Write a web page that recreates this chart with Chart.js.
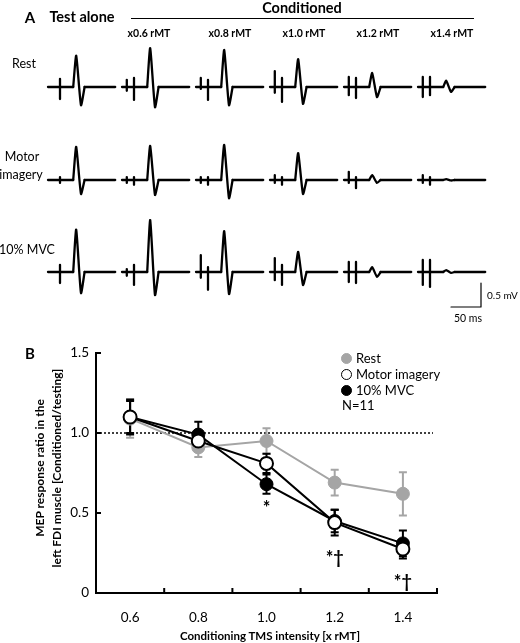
<!DOCTYPE html>
<html>
<head>
<meta charset="utf-8">
<script src="https://cdn.jsdelivr.net/npm/chart.js@4.4.1/dist/chart.umd.min.js"></script>
<style>
  body { margin: 0; background: #fff; }
  #wrap { position: relative; width: 520px; height: 643px; font-family: Lato, "Open Sans", sans-serif; color: #000; }
  #wrap canvas { position: absolute; left: 0; }
  .t { position: absolute; white-space: nowrap; transform: translate(-50%, -50%); line-height: 1; }
  .l { transform: translate(0, -50%); }
  .b { font-weight: bold; }
</style>
</head>
<body>
<div id="wrap">
  <canvas id="traces" width="520" height="330" style="top:0"></canvas>
  <canvas id="chart" width="520" height="313" style="top:330px"></canvas>
</div>
<script>
// ---- panel A: MEP amplitudes (mV) ----
const conditions = ["Rest", "Motor imagery", "10% MVC"];
const columns = ["Test alone", "x0.6 rMT", "x0.8 rMT", "x1.0 rMT", "x1.2 rMT", "x1.4 rMT"];

const restPeak = [0.65, 0.81, 0.77, 0.58, 0.29, 0.13];
const restTrough = [0.38, 0.42, 0.38, 0.35, 0.21, 0.10];
const imageryPeak = [0.69, 0.71, 0.73, 0.56, 0.10, 0.02];
const imageryTrough = [0.29, 0.31, 0.38, 0.29, 0.06, 0.01];
const mvcPeak = [0.88, 1.08, 0.85, 0.42, 0.10, 0.04];
const mvcTrough = [0.44, 0.48, 0.46, 0.27, 0.10, 0.02];

// stimulus artefacts [up, down] in mV: conditioning pulse and test pulse
const restCondArt = [null, [0.15, 0.08], [0.19, 0.04], [0.33, 0.12], [0.21, 0.17], [0.21, 0.21]];
const restTestArt = [[0.17, 0.25], [0.19, 0.27], [0.15, 0.27], [0.19, 0.31], [0.19, 0.23], [0.21, 0.17]];
const imageryCondArt = [null, [0.06, 0.06], [0.06, 0.06], [0.10, 0.06], [0.17, 0.06], [0.10, 0.06]];
const imageryTestArt = [[0.06, 0.06], [0.06, 0.10], [0.06, 0.10], [0.06, 0.10], [0.06, 0.17], [0.06, 0.10]];
const mvcCondArt = [null, [0.06, 0.08], [0.35, 0.12], [0.29, 0.17], [0.21, 0.21], [0.25, 0.27]];
const mvcTestArt = [[0.15, 0.23], [0.15, 0.27], [0.10, 0.37], [0.15, 0.27], [0.21, 0.23], [0.25, 0.31]];

// timing of the sweep (ms from sweep start)
const sweepMs = 112;
const condPulseMs = 8;
const testPulseMs = 20;
const mepOnsetMs = 42;
const mepPeakMs = 47;
const mepTroughMs = 55;
const mepEndMs = 61;

const scaleBarMs = 50;
const scaleBarMv = 0.5;

// ---- panel B: MEP ratio ----
const intensities = ["0.6", "0.8", "1.0", "1.2", "1.4"];
const restRatio = [1.09, 0.91, 0.95, 0.69, 0.62];
const restSem = [0.12, 0.06, 0.08, 0.08, 0.135];
const imageryRatio = [1.10, 0.95, 0.81, 0.44, 0.275];
const imagerySem = [0.10, 0.06, 0.06, 0.08, 0.06];
const mvcRatio = [1.10, 0.99, 0.68, 0.45, 0.31];
const mvcSem = [0.11, 0.08, 0.06, 0.07, 0.08];
const marks = ["", "", "*", "*\u2020", "*\u2020"];
const markY = [null, null, 0.53, 0.215, 0.065];

const GREY = "#a5a5a5";

// ---------- text ----------
const wrap = document.getElementById("wrap");
function txt(s, x, y, size, cls, extra) {
  const d = document.createElement("div");
  d.className = "t " + (cls || "");
  d.textContent = s;
  d.style.left = x + "px";
  d.style.top = y + "px";
  d.style.fontSize = size + "px";
  if (extra) Object.assign(d.style, extra);
  wrap.appendChild(d);
  return d;
}

txt("A", 30, 17, 15, "b");
txt("Test alone", 82, 17, 14.5, "b");
txt("Conditioned", 302, 8, 14.5, "b");
const rule = document.createElement("div");
Object.assign(rule.style, { position: "absolute", left: "131px", top: "18px", width: "343px", height: "1px", background: "#000" });
wrap.appendChild(rule);
const colCentres = [149, 230, 304, 378, 452];
columns.slice(1).forEach((c, i) => txt(c, colCentres[i], 33, 10.5, "b"));
txt("Rest", 24, 64, 12.5);
txt("Motor", 22, 157, 12.5);
txt("imagery", 21, 175, 12.5);
txt("10% MVC", 27, 250, 12.5);
txt("0.5 mV", 487, 295, 10, "l");
txt("50 ms", 468, 318, 10.5);

txt("B", 30, 353, 15, "b");
txt("MEP response ratio in the", 40, 468, 12, "b", { transform: "translate(-50%,-50%) rotate(-90deg)" });
txt("left FDI muscle [Conditioned/testing]", 57, 468, 12, "b", { transform: "translate(-50%,-50%) rotate(-90deg)" });
txt("Conditioning TMS intensity [x rMT]", 270, 636, 11.5, "b");

// legend
const legend = [
  { label: "Rest", fill: GREY, stroke: GREY, y: 358 },
  { label: "Motor imagery", fill: "#fff", stroke: "#000", y: 374 },
  { label: "10% MVC", fill: "#000", stroke: "#000", y: 390 }
];
legend.forEach(l => {
  const dot = document.createElement("div");
  Object.assign(dot.style, {
    position: "absolute", left: "341px", top: (l.y - 5.5) + "px", width: "9px", height: "9px",
    borderRadius: "50%", background: l.fill, border: "1.5px solid " + l.stroke
  });
  wrap.appendChild(dot);
  txt(l.label, 356, l.y, 13, "l");
});
txt("N=11", 342, 405, 13, "l");

// ---------- panel A traces ----------
const pxPerMs = 0.6, pxPerMv = 48;
const traceCanvasH = 330;
const colStartPx = [48, 122, 196, 270, 344, 418];
const rowBasePx = [87, 180, 272];

const rows = [
  { peak: restPeak, trough: restTrough, cond: restCondArt, test: restTestArt },
  { peak: imageryPeak, trough: imageryTrough, cond: imageryCondArt, test: imageryTestArt },
  { peak: mvcPeak, trough: mvcTrough, cond: mvcCondArt, test: mvcTestArt }
];

const traceSets = [];
rows.forEach((row, r) => {
  const yb = (traceCanvasH - rowBasePx[r]) / pxPerMv;
  colStartPx.forEach((cx, c) => {
    const x0 = cx / pxPerMs;
    const pts = [{ x: x0, y: yb }];
    const spike = (t, a) => {
      pts.push({ x: x0 + t, y: yb }, { x: x0 + t, y: yb + a[0] }, { x: x0 + t, y: yb - a[1] }, { x: x0 + t, y: yb });
    };
    if (row.cond[c]) spike(condPulseMs, row.cond[c]);
    spike(testPulseMs, row.test[c]);
    pts.push({ x: x0 + mepOnsetMs, y: yb });
    traceSets.push({ data: pts, tension: 0 });
    traceSets.push({
      data: [
        { x: x0 + mepOnsetMs, y: yb },
        { x: x0 + mepPeakMs, y: yb + row.peak[c] },
        { x: x0 + mepTroughMs, y: yb - row.trough[c] },
        { x: x0 + mepEndMs, y: yb }
      ],
      tension: 0.18
    });
    traceSets.push({ data: [{ x: x0 + mepEndMs, y: yb }, { x: x0 + sweepMs, y: yb }], tension: 0 });
  });
});
// calibration bar
const barX = 481 / pxPerMs, barY = (traceCanvasH - 307) / pxPerMv;
traceSets.push({
  data: [{ x: barX - scaleBarMs, y: barY }, { x: barX, y: barY }, { x: barX, y: barY + scaleBarMv }],
  tension: 0, borderWidth: 1.2
});

new Chart(document.getElementById("traces"), {
  type: "scatter",
  data: {
    datasets: traceSets.map(s => Object.assign({
      showLine: true, borderColor: "#000", borderWidth: 2.3, pointRadius: 0, borderJoinStyle: "round", borderCapStyle: "round"
    }, s))
  },
  options: {
    responsive: false, animation: false, events: [],
    layout: { padding: 0 },
    plugins: { legend: { display: false }, tooltip: { enabled: false } },
    scales: {
      x: { type: "linear", display: false, min: 0, max: 520 / pxPerMs },
      y: { type: "linear", display: false, min: 0, max: traceCanvasH / pxPerMv }
    }
  }
});

// ---------- panel B ----------
const sems = [imagerySem, mvcSem, restSem];
const errColours = ["#000", "#000", GREY];

const extras = {
  id: "extras",
  beforeDatasetsDraw(chart) {
    const { ctx, scales: { x, y } } = chart;
    ctx.save();
    // dotted reference line
    ctx.strokeStyle = "#000";
    ctx.lineWidth = 1.5;
    ctx.setLineDash([2, 2]);
    ctx.beginPath();
    ctx.moveTo(x.left, y.getPixelForValue(1));
    ctx.lineTo(x.right - 4, y.getPixelForValue(1));
    ctx.stroke();
    ctx.setLineDash([]);
    // error bars (drawn bottom dataset first)
    for (let d = chart.data.datasets.length - 1; d >= 0; d--) {
      const ds = chart.data.datasets[d];
      ctx.strokeStyle = errColours[d];
      ctx.lineWidth = 2;
      ds.data.forEach((v, i) => {
        const px = x.getPixelForValue(i);
        const top = y.getPixelForValue(v + sems[d][i]);
        const bot = y.getPixelForValue(v - sems[d][i]);
        ctx.beginPath();
        ctx.moveTo(px, top); ctx.lineTo(px, bot);
        ctx.moveTo(px - 4, top); ctx.lineTo(px + 4, top);
        ctx.moveTo(px - 4, bot); ctx.lineTo(px + 4, bot);
        ctx.stroke();
      });
    }
    ctx.restore();
  },
  afterDraw(chart) {
    const { ctx, scales: { x, y } } = chart;
    ctx.save();
    ctx.strokeStyle = "#000";
    ctx.lineWidth = 2;
    ctx.beginPath();
    [0.5, 1.5, 2.5, 3.5, 4.5].forEach(v => {
      const px = x.getPixelForValue(v);
      ctx.moveTo(px, y.bottom); ctx.lineTo(px, y.bottom - 5);
    });
    [0.5, 1, 1.5].forEach(v => {
      const py = y.getPixelForValue(v);
      ctx.moveTo(x.left, py); ctx.lineTo(x.left + 5, py);
    });
    ctx.stroke();
    ctx.fillStyle = "#000";
    ctx.font = "bold 18px Lato";
    ctx.textAlign = "center";
    ctx.textBaseline = "middle";
    marks.forEach((m, i) => {
      if (m) ctx.fillText(m, x.getPixelForValue(i), y.getPixelForValue(markY[i]));
    });
    ctx.restore();
  }
};

new Chart(document.getElementById("chart"), {
  type: "line",
  data: {
    labels: intensities,
    datasets: [
      { label: "Motor imagery", data: imageryRatio, borderColor: "#000", backgroundColor: "#fff",
        pointBackgroundColor: "#fff", pointBorderColor: "#000", pointBorderWidth: 2, pointRadius: 6.5 },
      { label: "10% MVC", data: mvcRatio, borderColor: "#000", backgroundColor: "#000",
        pointBackgroundColor: "#000", pointBorderColor: "#000", pointBorderWidth: 1, pointRadius: 6.5 },
      { label: "Rest", data: restRatio, borderColor: GREY, backgroundColor: GREY,
        pointBackgroundColor: GREY, pointBorderColor: GREY, pointBorderWidth: 1, pointRadius: 6.5 }
    ].map(d => Object.assign({ borderWidth: 2, tension: 0 }, d))
  },
  options: {
    responsive: false, animation: false, events: [],
    layout: { padding: { left: 0, right: 83, top: 23, bottom: 0 } },
    plugins: { legend: { display: false }, tooltip: { enabled: false } },
    scales: {
      x: {
        type: "category", offset: true,
        grid: { display: false, drawTicks: false },
        border: { display: true, color: "#000", width: 2 },
        ticks: { color: "#000", font: { family: "Lato", size: 13.5 }, padding: 17 },
        afterFit: s => { s.height = 50; }
      },
      y: {
        min: 0, max: 1.5,
        grid: { display: false, drawTicks: false },
        border: { display: true, color: "#000", width: 2 },
        ticks: { stepSize: 0.5, color: "#000", font: { family: "Lato", size: 13.5 }, padding: 7 },
        afterFit: s => { s.width = 96; }
      }
    }
  },
  plugins: [extras]
});
</script>
</body>
</html>
